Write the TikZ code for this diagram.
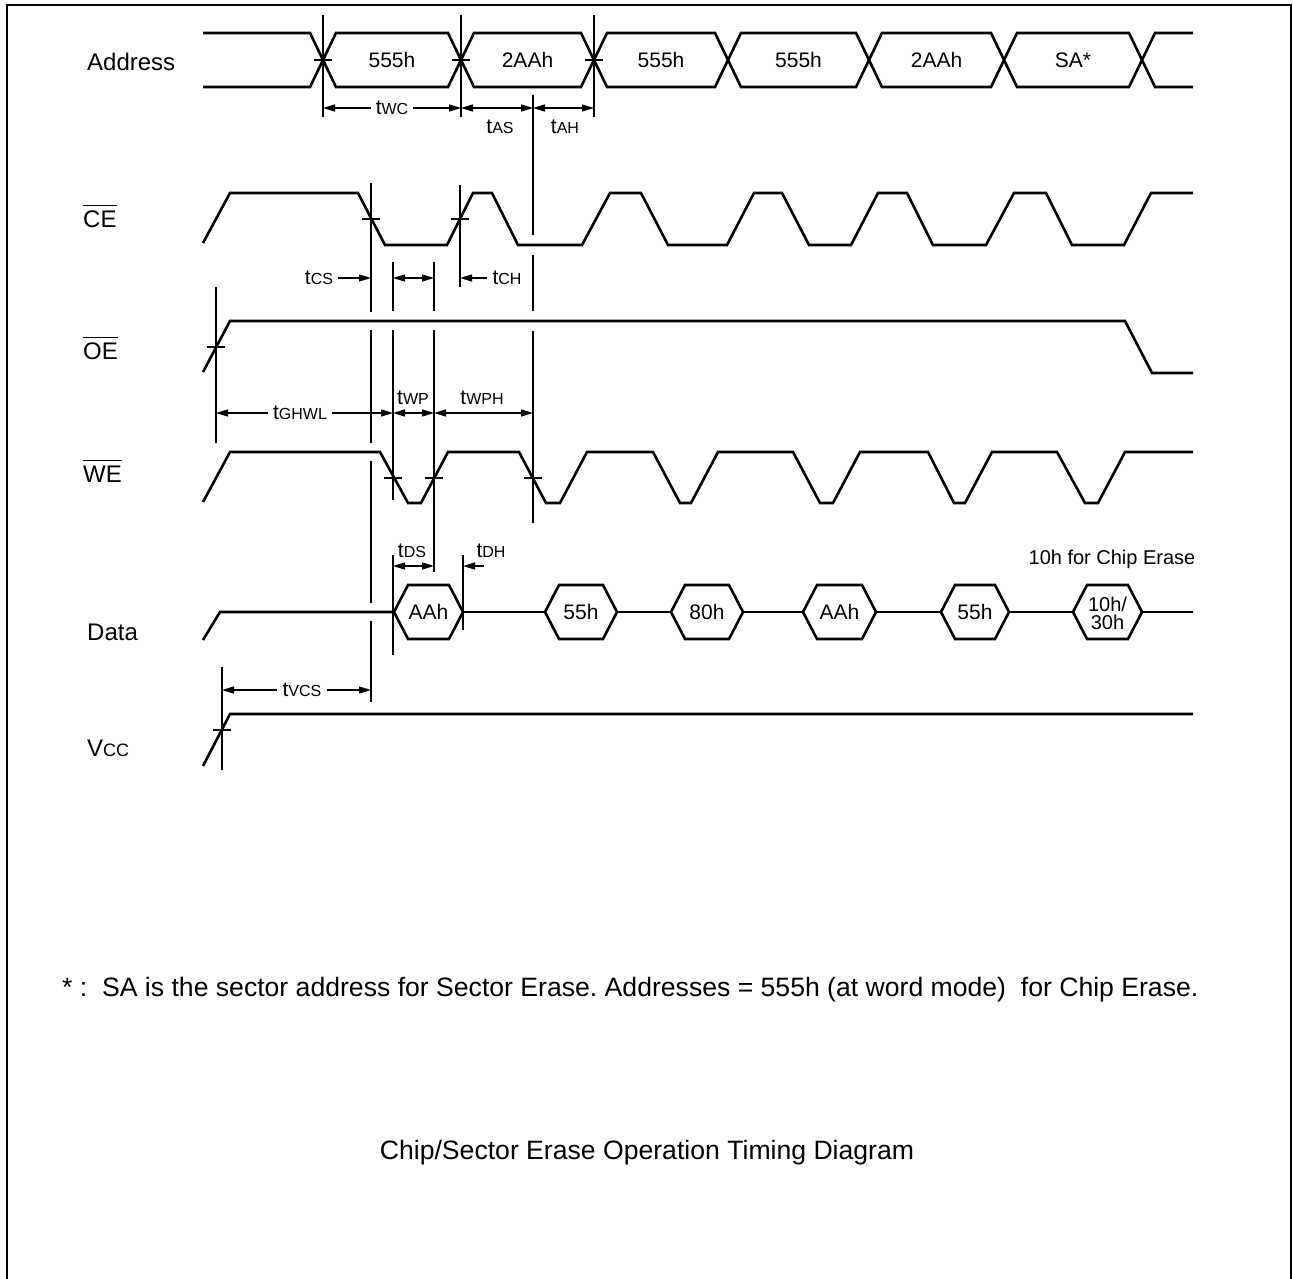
\documentclass[tikz,border=0pt]{standalone}
\usepackage{fontspec}
\setmainfont{Liberation Sans}
\usetikzlibrary{arrows.meta}
\frenchspacing
\newcommand\tsub[2]{{\fontsize{21}{21}\selectfont #1}{\fontsize{16}{16}\selectfont #2}}
\newcommand\ovl[1]{$\overline{\hbox{#1\rule{0pt}{21pt}}}$}
\begin{document}
\begin{tikzpicture}[x=1pt,y=-1pt,
  sig/.style={line width=2.6pt, line join=miter},
  dim/.style={line width=1.3pt},
  arr/.style={dim, -{Triangle[length=12pt,width=7pt]}},
  darr/.style={dim, {Triangle[length=12pt,width=7pt]}-{Triangle[length=12pt,width=7pt]}},
  signame/.style={font=\fontsize{24}{24}\selectfont, inner sep=0pt, anchor=base west},
  hexl/.style={font=\fontsize{21}{21}\selectfont, inner sep=0pt},
  tlab/.style={inner sep=0pt},
  tin/.style={inner ysep=0pt, inner xsep=5pt},
  big/.style={font=\fontsize{26.6}{26.6}\selectfont, inner sep=0pt}
]
\useasboundingbox (0,0) rectangle (1293,1279);
\draw[line width=2.2pt] (7,1281) -- (7,5) -- (1291,5) -- (1291,1281);

% ---------- signal names ----------
\node[signame] (nAddr) at (87,70.6) {Address};
\node[signame] (nCE) at (83,227.6) {\ovl{CE}};
\node[signame] (nOE) at (83,359.6) {\ovl{OE}};
\node[signame] (nWE) at (83,482.6) {\ovl{WE}};
\node[signame] (nData) at (87,640.6) {Data};
\node[signame] (nVcc) at (87,756.6) {V{\fontsize{18}{18}\selectfont CC}};

% ---------- Address ----------
\draw[sig] (203,33) -- (310,33) -- (323,60) -- (310,87) -- (203,87);
\foreach \a/\b/\t/\n in {323/461/555h/a1, 461/594/2AAh/a2, 594/728/555h/a3, 728/869/555h/a4, 869/1004/2AAh/a5, 1004/1142/SA*/a6}{
  \draw[sig] (\a,60) -- ({\a+13},33) -- ({\b-13},33) -- (\b,60) -- ({\b-13},87) -- ({\a+13},87) -- cycle;
  \node[hexl] (\n) at ({(\a+\b)/2},60) {\t};
}
\draw[sig] (1193,33) -- (1155,33) -- (1142,60) -- (1155,87) -- (1193,87);

% ---------- CE ----------
\draw[sig] (203,243) -- (230,193) -- (358,193) -- (385,245) -- (447,245) -- (473,193) -- (492,193) -- (518,245)
  -- (582,245) -- (610,193) -- (641,193) -- (668,245) -- (727,245) -- (754,193) -- (782,193) -- (809,245)
  -- (851,245) -- (878,193) -- (907,193) -- (933,245) -- (986,245) -- (1014,193) -- (1046,193) -- (1072,245)
  -- (1124,245) -- (1151,193) -- (1193,193);

% ---------- OE ----------
\draw[sig] (203,372) -- (230,321) -- (1125,321) -- (1152,373) -- (1193,373);

% ---------- WE ----------
\draw[sig] (203,502) -- (230,452) -- (380,452) -- (408,503) -- (421,503) -- (448,452) -- (519,452) -- (546,503)
  -- (560,503) -- (587,452) -- (653,452) -- (680,503) -- (691,503) -- (718,452) -- (793,452) -- (820,503)
  -- (833,503) -- (860,452) -- (928,452) -- (954,503) -- (965,503) -- (992,452) -- (1057,452) -- (1085,503)
  -- (1098,503) -- (1125,452) -- (1193,452);

% ---------- Data ----------
\draw[sig] (203,640) -- (220,612) -- (394,612);
\foreach \a/\b/\n in {394/463/d1, 545/617/d2, 671/743/d3, 803/876/d4, 941/1009/d5, 1073/1142/d6}{
  \draw[sig] (\a,612) -- ({\a+14},585) -- ({\b-14},585) -- (\b,612) -- ({\b-14},639) -- ({\a+14},639) -- cycle;
}
\draw[sig] (463,612) -- (545,612);
\draw[sig] (617,612) -- (671,612);
\draw[sig] (743,612) -- (803,612);
\draw[sig] (876,612) -- (941,612);
\draw[sig] (1009,612) -- (1073,612);
\draw[sig] (1142,612) -- (1193,612);
\node[hexl] (td1) at (428.5,612) {AAh};
\node[hexl] (td2) at (581,612) {55h};
\node[hexl] (td3) at (707,612) {80h};
\node[hexl] (td4) at (839.5,612) {AAh};
\node[hexl] (td5) at (975,612) {55h};
\node[hexl, font=\fontsize{20}{18}\selectfont, align=center] (td6) at (1107.5,613) {10h/\\30h};
\node[hexl, font=\fontsize{20}{20}\selectfont] (chip) at (1112,559) {10h for Chip Erase};

% ---------- Vcc ----------
\draw[sig] (203,766) -- (230,714) -- (1193,714);

% ---------- vertical reference lines ----------
\draw[dim] (323,15) -- (323,117);
\draw[dim] (461,15) -- (461,117);
\draw[dim] (594,15) -- (594,117);
\draw[dim] (533,95) -- (533,235);
\draw[dim] (533,255) -- (533,311);
\draw[dim] (533,331) -- (533,523);
\draw[dim] (371,183) -- (371,312);
\draw[dim] (371,330) -- (371,443);
\draw[dim] (371,461) -- (371,603);
\draw[dim] (371,621) -- (371,702);
\draw[dim] (393,262) -- (393,311);
\draw[dim] (393,330) -- (393,500);
\draw[dim] (393,555) -- (393,655);
\draw[dim] (434,262) -- (434,311);
\draw[dim] (434,330) -- (434,572);
\draw[dim] (460,185) -- (460,287);
\draw[dim] (463,555) -- (463,630);
\draw[dim] (216,287) -- (216,443);
\draw[dim] (222,667) -- (222,770);

% ---------- crossing ticks ----------
\foreach \x/\y in {323/60, 461/60, 594/60, 371/219, 460/219, 216/347, 393/478, 434/478, 533/478, 222/730}{
  \draw[dim] ({\x-9},\y) -- ({\x+9},\y);
}

% ---------- timing dimensions ----------
\coordinate (wcL) at (323,108); \coordinate (wcR) at (461,108);
\node[tin] (tWC) at (392,108) {\tsub{t}{WC}};
\draw[arr] (tWC.west) -- (wcL);
\draw[arr] (tWC.east) -- (wcR);

\coordinate (asR) at (533,108);
\draw[darr] (wcR) -- (asR);
\node[tlab] (tAS) at (500,127) {\tsub{t}{AS}};
\coordinate (ahR) at (594,108);
\draw[darr] (asR) -- (ahR);
\node[tlab] (tAH) at (565,127) {\tsub{t}{AH}};

\coordinate (csR) at (371,278);
\node[tin] (tCS) at (319,278) {\tsub{t}{CS}};
\draw[arr] (tCS.east) -- (csR);
\coordinate (q1) at (393,278); \coordinate (q2) at (434,278);
\draw[darr] (q1) -- (q2);
\coordinate (chL) at (460,278);
\node[tin] (tCH) at (507,278) {\tsub{t}{CH}};
\draw[arr] (tCH.west) -- (chL);

\coordinate (ghL) at (216,413); \coordinate (ghR) at (393,413);
\node[tin] (tGHWL) at (300,413) {\tsub{t}{GHWL}};
\draw[arr] (tGHWL.west) -- (ghL);
\draw[arr] (tGHWL.east) -- (ghR);
\coordinate (wpR) at (434,413);
\draw[darr] (ghR) -- (wpR);
\node[tlab] (tWP) at (413,398) {\tsub{t}{WP}};
\coordinate (wphR) at (533,413);
\draw[darr] (wpR) -- (wphR);
\node[tlab] (tWPH) at (482,398) {\tsub{t}{WPH}};

\coordinate (dsL) at (393,566); \coordinate (dsR) at (434,566);
\draw[darr] (dsL) -- (dsR);
\node[tlab] (tDS) at (412,551) {\tsub{t}{DS}};
\coordinate (dhS) at (484,566); \coordinate (dhE) at (463,566);
\draw[arr] (dhS) -- (dhE);
\node[tlab] (tDH) at (491,551) {\tsub{t}{DH}};

\coordinate (vcL) at (222,690); \coordinate (vcR) at (371,690);
\node[tin] (tVCS) at (302,690) {\tsub{t}{VCS}};
\draw[arr] (tVCS.west) -- (vcL);
\draw[arr] (tVCS.east) -- (vcR);

% ---------- notes ----------
\node[big, anchor=west] (note) at (62,990) {* :\ \ SA is the sector address for Sector Erase. Addresses = 555h (at word mode)\ \ for Chip Erase.};
\node[big] (title) at (647,1153) {Chip/Sector Erase Operation Timing Diagram};
\end{tikzpicture}
\end{document}
